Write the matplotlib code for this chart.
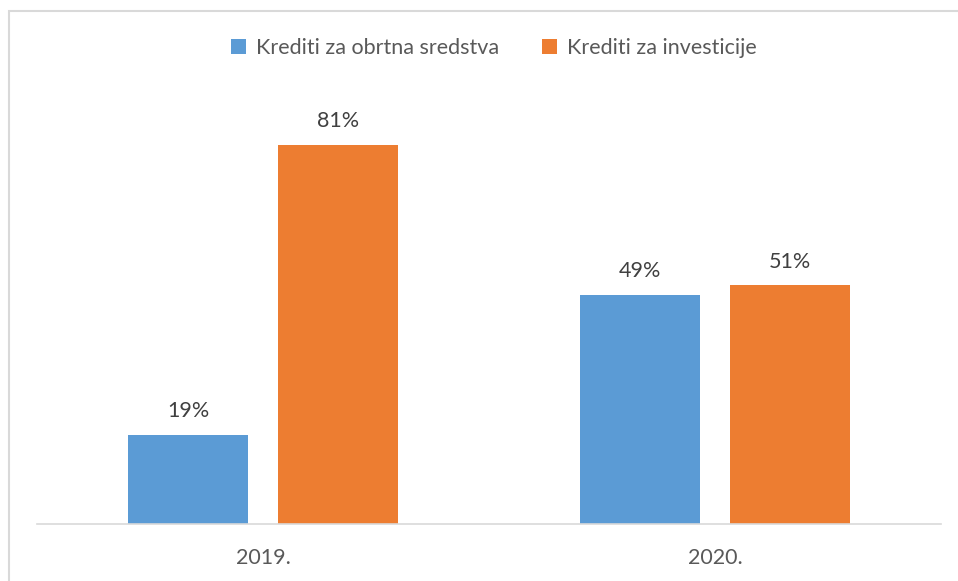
import matplotlib
matplotlib.use("Agg")
import matplotlib.pyplot as plt
from matplotlib.patches import Rectangle
import numpy as np

categories = ["2019.", "2020."]
series_names = ["Krediti za obrtna sredstva", "Krediti za investicije"]
obrtna = [19, 49]
investicije = [81, 51]
colors = ["#5B9BD5", "#ED7D31"]

plt.rcParams['font.family'] = ['Lato', 'DejaVu Sans']
W, H = 958, 581
fig = plt.figure(figsize=(W / 100, H / 100), dpi=100)
ax = fig.add_axes([37 / W, 1 - 524 / H, (941 - 37) / W, (524 - 103) / H])

FS = 15.5
x = np.arange(len(categories))
bw = 0.265
off = 0.166
b1 = ax.bar(x - off, obrtna, bw, color=colors[0], label=series_names[0])
b2 = ax.bar(x + off, investicije, bw, color=colors[1], label=series_names[1])
for bars, vals in ((b1, obrtna), (b2, investicije)):
    for r, v in zip(bars, vals):
        ax.annotate(f"{v}%", (r.get_x() + r.get_width() / 2, v), xytext=(0, 10),
                    textcoords="offset points", ha="center", va="bottom",
                    fontsize=FS, color="#404040")

ax.set_xlim(-0.5, 1.5)
ax.set_ylim(0, 90)
ax.set_xticks(x)
ax.set_xticklabels(categories, fontsize=FS, color="#595959")
ax.tick_params(axis="x", length=0, pad=17)
ax.set_yticks([])
for s in ("top", "left", "right"):
    ax.spines[s].set_visible(False)
ax.spines["bottom"].set_color("#D9D9D9")
ax.spines["bottom"].set_linewidth(1.2)

fig.legend(handles=[b1, b2], loc="center", bbox_to_anchor=(494 / W, 1 - 48 / H),
           ncol=2, frameon=False, fontsize=FS, labelcolor="#595959",
           handlelength=0.7, handleheight=0.7, handletextpad=0.45, columnspacing=2.0)

fig.patches.append(Rectangle((8.5 / W, -0.1), 2, 1 - 10.5 / H + 0.1, transform=fig.transFigure,
                             fill=False, edgecolor="#D9D9D9", linewidth=1.5))

fig.savefig("out.png", dpi=100)
